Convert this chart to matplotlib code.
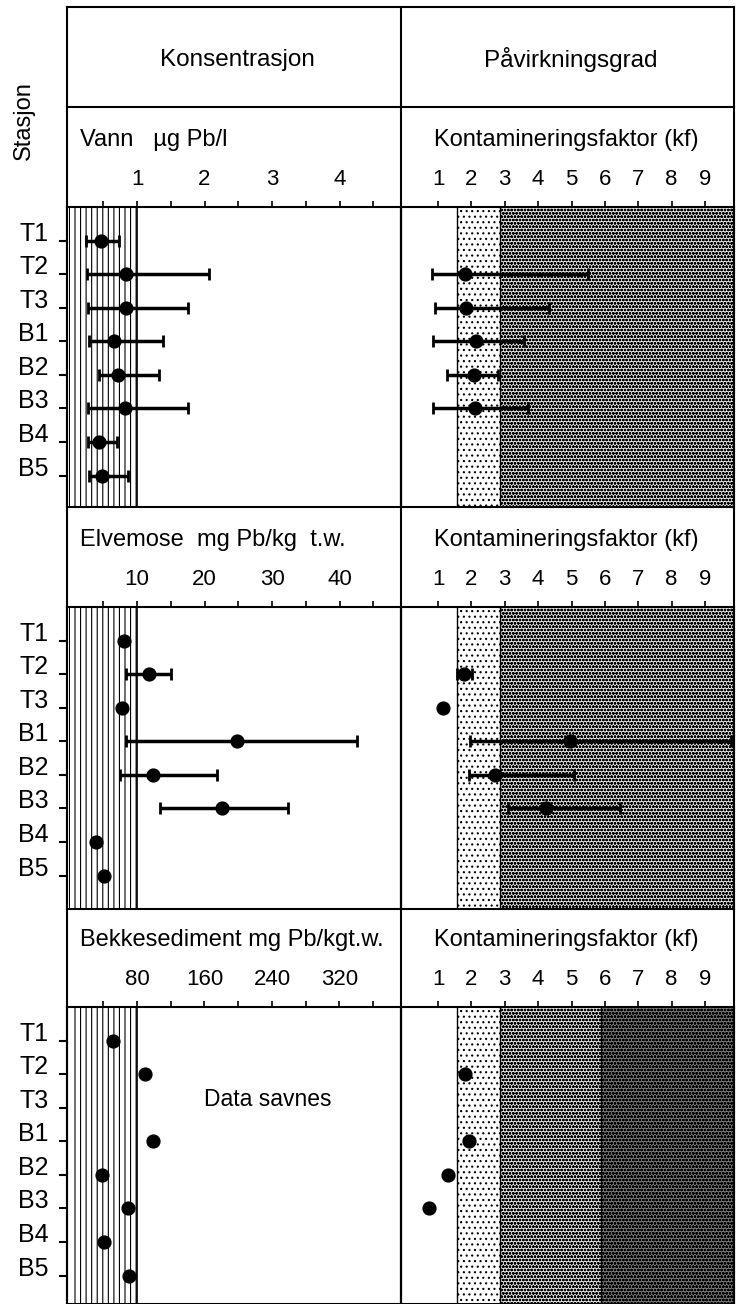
import numpy as np
import matplotlib
matplotlib.use("Agg")
import matplotlib.pyplot as plt
from matplotlib.lines import Line2D

plt.rcParams["font.family"] = ["Liberation Sans", "DejaVu Sans"]
plt.rcParams["hatch.linewidth"] = 0.8

nan = np.nan
stations = ["T1", "T2", "T3", "B1", "B2", "B3", "B4", "B5"]

# Vann, ug Pb/l : middel, min, maks
vann_mean = [0.47, 0.84, 0.84, 0.66, 0.72, 0.82, 0.44, 0.48]
vann_lo = [0.24, 0.26, 0.27, 0.29, 0.44, 0.27, 0.27, 0.29]
vann_hi = [0.73, 2.07, 1.76, 1.39, 1.33, 1.76, 0.70, 0.87]
vann_kf = [nan, 1.81, 1.84, 2.14, 2.08, 2.11, nan, nan]
vann_kf_lo = [nan, 0.82, 0.91, 0.85, 1.27, 0.85, nan, nan]
vann_kf_hi = [nan, 5.49, 4.33, 3.58, 2.80, 3.70, nan, nan]

# Elvemose, mg Pb/kg t.w.
mose_mean = [8.1, 11.8, 7.8, 24.8, 12.4, 22.6, 3.9, 5.1]
mose_lo = [nan, 8.4, nan, 8.4, 7.5, 13.4, nan, nan]
mose_hi = [nan, 15.0, nan, 42.6, 21.9, 32.4, nan, nan]
mose_kf = [nan, 1.78, 1.15, 4.96, 2.71, 4.24, nan, nan]
mose_kf_lo = [nan, 1.57, nan, 1.96, 1.93, 3.10, nan, nan]
mose_kf_hi = [nan, 2.02, nan, 9.78, 5.07, 6.45, nan, nan]

# Bekkesediment, mg Pb/kg t.w.
sed_mean = [51.6, 89.5, nan, 99.0, 38.5, 69.3, 40.9, 70.5]
sed_kf = [nan, 1.81, nan, 1.93, 1.30, 0.73, nan, nan]

# bakgrunnsnivaa (skravert) og kf-klasser
background = [1, 10, 80]
kf_bounds = [1.57, 2.87, 5.88]

conc_titles = ["Vann   \u00b5g Pb/l", "Elvemose  mg Pb/kg  t.w.", "Bekkesediment mg Pb/kgt.w."]
conc_ticks = [[1, 2, 3, 4], [10, 20, 30, 40], [80, 160, 240, 320]]
conc_minor = [0.5, 5, 40]
conc_xlim = [(-0.037, 4.91), (-0.37, 49.1), (-3.0, 393.0)]
kf_ticks = [1, 2, 3, 4, 5, 6, 7, 8, 9]
kf_xlim = (-0.11, 9.87)

W, H = 738, 1304
fig = plt.figure(figsize=(W / 100, H / 100), dpi=100)


def rect(x0, y0, x1, y1):
    return [x0 / W, 1 - y1 / H, (x1 - x0) / W, (y1 - y0) / H]


def fline(xs, ys, lw=1.5):
    fig.add_artist(Line2D([x / W for x in xs], [1 - y / H for y in ys],
                          color="black", lw=lw, transform=fig.transFigure))


XL, XM, XR = 67, 401, 734
rows = [(207, 507), (607, 909), (1007, 1304)]
row_step = 33.57

# ramme
for x in (XL, XM, XR):
    fline([x, x], [7, H])
for y in (7, 107):
    fline([XL, XR], [y, y])

fig.text(24 / W, 1 - 121 / H, "Stasjon", rotation=90, ha="center", va="center", fontsize=17)
fig.text(237 / W, 1 - 60 / H, "Konsentrasjon", ha="center", va="center", fontsize=17.5)
fig.text(571 / W, 1 - 60 / H, "P\u00e5virkningsgrad", ha="center", va="center", fontsize=17.5)

ypos = np.arange(1, len(stations) + 1)


def draw_points(ax, x, lo=None, hi=None):
    x = np.asarray(x, dtype=float)
    if lo is not None:
        lo = np.asarray(lo, dtype=float)
        hi = np.asarray(hi, dtype=float)
        ok = ~np.isnan(lo)
        ax.errorbar(x[ok], ypos[ok], xerr=[x[ok] - lo[ok], hi[ok] - x[ok]], fmt="none",
                    ecolor="black", elinewidth=2.5, capsize=4.5, capthick=2, zorder=4)
    ok = ~np.isnan(x)
    ax.scatter(x[ok], ypos[ok], s=85, color="black", zorder=5)


def style_axis(ax, top, bottom):
    ax.set_ylim((bottom - top) / row_step, 0)
    ax.set_yticks([])
    ax.xaxis.set_ticks_position("top")
    ax.tick_params(axis="x", which="both", top=True, bottom=False, labeltop=True,
                   labelbottom=False, direction="out", length=4, width=1.2, pad=8.5,
                   labelsize=16)
    for s in ax.spines.values():
        s.set_linewidth(1.5)
    ax.set_facecolor("none")


conc_data = [(vann_mean, vann_lo, vann_hi), (mose_mean, mose_lo, mose_hi), (sed_mean, None, None)]
kf_data = [(vann_kf, vann_kf_lo, vann_kf_hi), (mose_kf, mose_kf_lo, mose_kf_hi), (sed_kf, None, None)]

for r, (top, bottom) in enumerate(rows):
    # konsentrasjon
    ax = fig.add_axes(rect(XL, top, XM, bottom))
    style_axis(ax, top, bottom)
    ax.set_xlim(conc_xlim[r])
    ax.set_xticks(conc_ticks[r])
    ax.set_xticklabels([str(t) for t in conc_ticks[r]])
    ax.set_xticks(np.arange(conc_minor[r], conc_xlim[r][1], conc_minor[r]), minor=True)
    ax.axvspan(0, background[r], facecolor="white", edgecolor="black", hatch="|||", lw=0, zorder=1)
    ax.axvline(background[r], color="black", lw=1.2, zorder=2)
    ax.set_yticks(ypos)
    ax.tick_params(axis="y", left=True, labelleft=False, direction="out", length=6, width=1.5)
    for i, name in enumerate(stations):
        ax.annotate(name, xy=(0, ypos[i]), xycoords=ax.get_yaxis_transform(),
                    xytext=(-18, 7), textcoords="offset pixels", ha="right", va="center",
                    fontsize=18, annotation_clip=False)
    m, lo, hi = conc_data[r]
    draw_points(ax, m, lo, hi)
    fig.text(80 / W, 1 - (top - 67) / H, conc_titles[r], ha="left", va="center", fontsize=17)

    # kontamineringsfaktor
    ax2 = fig.add_axes(rect(XM, top, XR, bottom))
    style_axis(ax2, top, bottom)
    ax2.set_xlim(kf_xlim)
    ax2.set_xticks(kf_ticks)
    ax2.set_xticklabels([str(t) for t in kf_ticks])
    ax2.axvspan(kf_bounds[0], kf_bounds[1], facecolor="white", edgecolor="black", hatch="...", lw=0, zorder=1)
    if r < 2:
        ax2.axvspan(kf_bounds[1], kf_xlim[1], facecolor="#e6e6e6", edgecolor="black", hatch="ooooo", lw=0, zorder=1)
    else:
        ax2.axvspan(kf_bounds[1], kf_bounds[2], facecolor="#e6e6e6", edgecolor="black", hatch="ooooo", lw=0, zorder=1)
        ax2.axvspan(kf_bounds[2], kf_xlim[1], facecolor="#7c7c7c", edgecolor="black", hatch="ooooo", lw=0, zorder=1)
        ax2.axvline(kf_bounds[2], color="black", lw=1.0, zorder=2)
    for b in kf_bounds[:2]:
        ax2.axvline(b, color="black", lw=1.0, zorder=2)
    m, lo, hi = kf_data[r]
    draw_points(ax2, m, lo, hi)
    fig.text(566 / W, 1 - (top - 67) / H, "Kontamineringsfaktor (kf)", ha="center", va="center", fontsize=17)

fig.text(268 / W, 1 - 1100 / H, "Data savnes", ha="center", va="center", fontsize=16.5)

fig.savefig("out.png", dpi=100)
